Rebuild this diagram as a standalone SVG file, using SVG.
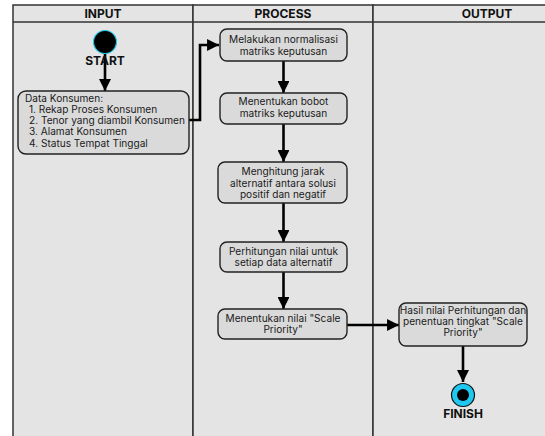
<svg xmlns="http://www.w3.org/2000/svg" width="545" height="436" viewBox="0 0 545 436">
<defs>
<marker id="ah" viewBox="0 0 10 10" refX="10" refY="5" markerWidth="4.6" markerHeight="4.6" markerUnits="strokeWidth" orient="auto">
<path d="M0,0 L10,5 L0,10 z" fill="#000"/>
</marker>
</defs>
<style>
.lane{fill:#e4e4e4;stroke:#333;stroke-width:1.5}
.hdr{font-family:Inter,"Liberation Sans",sans-serif;font-weight:bold;font-size:12px;fill:#111;text-anchor:middle}
.box{fill:#dadada;stroke:#222;stroke-width:1.4}
.t{font-family:Inter,"Liberation Sans",sans-serif;font-size:10.1px;fill:#1a1a1a;text-anchor:middle}
.tl{font-family:Inter,"Liberation Sans",sans-serif;font-size:10.1px;fill:#1a1a1a}
.lbl{font-family:Inter,"Liberation Sans",sans-serif;font-weight:bold;font-size:12px;fill:#111;text-anchor:middle}
.c{fill:none;stroke:#000;stroke-width:2.6;marker-end:url(#ah)}
</style>
<rect width="545" height="436" fill="#fff"/>
<g id="lanes">
<rect class="lane" x="13" y="5" width="180" height="440"/>
<rect class="lane" x="193" y="5" width="180" height="440"/>
<rect class="lane" x="373" y="5" width="200" height="440"/>
<line x1="13" y1="22" x2="545" y2="22" stroke="#333" stroke-width="1.5"/>
<text class="hdr" x="103" y="18">INPUT</text>
<text class="hdr" x="283" y="18">PROCESS</text>
<text class="hdr" x="487" y="18">OUTPUT</text>
</g>
<g id="connectors">
<line class="c" x1="105" y1="53" x2="105" y2="91"/>
<polyline class="c" points="189,120 200,120 200,45 219,45"/>
<line class="c" x1="283.5" y1="61" x2="283.5" y2="93"/>
<line class="c" x1="283.5" y1="124" x2="283.5" y2="162"/>
<line class="c" x1="283.5" y1="203" x2="283.5" y2="242"/>
<line class="c" x1="283.5" y1="272" x2="283.5" y2="309"/>
<line class="c" x1="347" y1="325" x2="399" y2="325"/>
<line class="c" x1="463" y1="346" x2="463" y2="382"/>
</g>
<g id="start">
<circle cx="105" cy="42" r="11.5" fill="#000" stroke="#1ec8e8" stroke-width="1.2"/>
<text class="lbl" x="105" y="65">START</text>
</g>
<g id="data-konsumen">
<rect class="box" x="18" y="91" width="171" height="63" rx="8"/>
<text class="tl" x="25" y="102">Data Konsumen:</text>
<text class="tl" x="29" y="113">1. Rekap Proses Konsumen</text>
<text class="tl" x="29" y="124">2. Tenor yang diambil Konsumen</text>
<text class="tl" x="29" y="135">3. Alamat Konsumen</text>
<text class="tl" x="29" y="146.5">4. Status Tempat Tinggal</text>
</g>
<g id="normalisasi">
<rect class="box" x="220" y="29" width="127" height="32" rx="7"/>
<text class="t" x="283.5" y="43">Melakukan normalisasi</text>
<text class="t" x="283.5" y="54.5">matriks keputusan</text>
</g>
<g id="bobot">
<rect class="box" x="220" y="93" width="127" height="31" rx="7"/>
<text class="t" x="283.5" y="105">Menentukan bobot</text>
<text class="t" x="283.5" y="117">matriks keputusan</text>
</g>
<g id="jarak">
<rect class="box" x="218" y="162" width="129" height="41" rx="7"/>
<text class="t" x="283" y="175">Menghitung jarak</text>
<text class="t" x="283" y="187">alternatif antara solusi</text>
<text class="t" x="283" y="198">positif dan negatif</text>
</g>
<g id="perhitungan">
<rect class="box" x="220" y="242" width="127" height="30" rx="7"/>
<text class="t" x="283.5" y="255">Perhitungan nilai untuk</text>
<text class="t" x="283.5" y="266">setiap data alternatif</text>
</g>
<g id="scale-priority">
<rect class="box" x="218" y="309" width="129" height="30" rx="7"/>
<text class="t" x="283" y="322">Menentukan nilai "Scale</text>
<text class="t" x="283" y="333">Priority"</text>
</g>
<g id="hasil">
<rect class="box" x="399" y="303" width="128" height="43" rx="7"/>
<text class="t" x="463" y="314">Hasil nilai Perhitungan dan</text>
<text class="t" x="463" y="325">penentuan tingkat "Scale</text>
<text class="t" x="463" y="336">Priority"</text>
</g>
<g id="finish">
<circle cx="463" cy="395" r="11.5" fill="#1ec8f0" stroke="#111" stroke-width="1.2"/>
<circle cx="463" cy="395" r="6" fill="#000"/>
<text class="lbl" x="463" y="418">FINISH</text>
</g>
</svg>
